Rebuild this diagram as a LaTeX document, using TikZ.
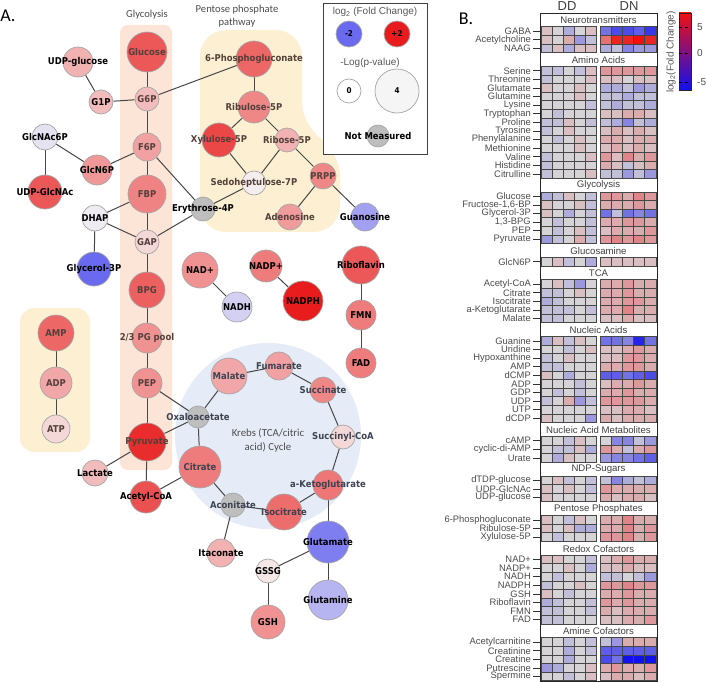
\documentclass[tikz,border=0pt]{standalone}
\usepackage{fontspec}
\setmainfont{Liberation Sans}
\newfontfamily\mfont[FakeStretch=0.9]{DejaVu Sans}
\newfontfamily\cfont{Carlito}

\definecolor{fcUp}{HTML}{E81C1C}
\definecolor{fcDn}{HTML}{6A6AF0}
\definecolor{fcZero}{HTML}{F6F2F2}
\definecolor{nmgray}{HTML}{BEBEBE}
\definecolor{hmR}{HTML}{F01010}
\definecolor{hmB}{HTML}{1010F0}
\definecolor{hmzero}{HTML}{D6D3D6}
\definecolor{glyband}{HTML}{FCE4D6}
\definecolor{pppband}{HTML}{FDF0D2}
\definecolor{tcaband}{HTML}{E6ECF7}
\definecolor{inkY}{HTML}{54403A}
\definecolor{inkB}{HTML}{3E4252}

\pgfdeclarelayer{regions}
\pgfdeclarelayer{edges}
\pgfsetlayers{regions,edges,main}

\tikzset{
  met/.style 2 args={circle, draw=black!35, line width=0.7pt, fill=#2,
    minimum size=#1pt, inner sep=0pt, text=black,
    font=\mfont\bfseries\fontsize{9.4}{10}\selectfont},
  inY/.style={text=inkY},
  inB/.style={text=inkB},
  link/.style={draw=black!72, line width=1pt},
  grp/.style={text=black!70, font=\cfont\fontsize{10.6}{13.6}\selectfont, align=center},
  lgtxt/.style={text=black!65, font=\fontsize{10}{10}\selectfont},
  lgnum/.style={font=\mfont\bfseries\fontsize{8}{8}\selectfont},
  hmlbl/.style={anchor=east, inner sep=0pt, text=black!70, font=\fontsize{9.4}{9.4}\selectfont},
  hmhd/.style={inner sep=0pt, text=black!75, font=\fontsize{9.6}{10}\selectfont},
  hmcell/.style={draw=black!72, line width=0.7pt},
  panel/.style={font=\cfont\fontsize{18}{18}\selectfont, inner sep=0pt},
}

% heatmap rows, y grows downwards
\newcount\hmk
\newcommand\hmhead[1]{%
  \global\advance\hmk by 1
  \node[hmhd] (hh\the\hmk) at (598.5,\hmy+7.2) {#1};
  \pgfmathsetmacro\hmtmp{\hmy+13.8}\xdef\hmy{\hmtmp}}
\newcommand\hmrow[2]{%
  \global\advance\hmk by 1
  \pgfmathsetmacro\ry{\hmy+4.3}
  \node[hmlbl] (hr\the\hmk) at (531,\ry) {#1};
  \draw[black!80, line width=0.7pt] (533,\ry) -- (540,\ry);
  \foreach \v [count=\c] in {#2} {
    \pgfmathsetmacro\cx{\c<6 ? 541+(\c-1)*11 : 600+(\c-6)*11.2}
    \pgfmathsetmacro\cw{\c<6 ? 11 : 11.2}
    \pgfmathtruncatemacro\pc{abs(\v)*10}
    \ifdim\v pt<0pt \def\hue{hmB}\else\def\hue{hmR}\fi
    \filldraw[hmcell, fill=\hue!\pc!hmzero] (\cx,\ry-4.3) rectangle ++(\cw,8.6);
  }
  \pgfmathsetmacro\hmtmp{\hmy+8.6}\xdef\hmy{\hmtmp}}

\begin{document}
\begin{tikzpicture}[x=1pt,y=-1pt]
\useasboundingbox (0,0) rectangle (706,682);
\begin{pgfonlayer}{regions}
\fill[white] (0,0) rectangle (706,682);
\fill[glyband, rounded corners=8pt] (120,25) rectangle (172,470);
\fill[pppband, rounded corners=26pt] (200,30) -- (302,30) -- (302,128) -- (340,150) -- (340,232) -- (200,232) -- cycle;
\fill[pppband, rounded corners=14pt] (20,308) rectangle (90,452);
\fill[tcaband] (268,436) circle (93pt);
\end{pgfonlayer}

\node[panel] (pa) at (8,16) {A.};
\node[grp] (glyt) at (147,15) {Glycolysis};
\node[grp] (pppt) at (237,16) {Pentose phosphate\\pathway};
\node[grp, font=\cfont\fontsize{10.8}{14}\selectfont] (krebs) at (268,440) {Krebs (TCA/citric\\acid) Cycle};

% glycolysis
\node[met={40}{fcUp!72!fcZero},inY] (glc) at (147,52) {\makebox[0pt]{Glucose}};
\node[met={30}{fcUp!30!fcZero}] (udpglc) at (78,62) {\makebox[0pt]{UDP-glucose}};
\node[met={24}{fcUp!25!fcZero}] (g1p) at (101,102) {\makebox[0pt]{G1P}};
\node[met={24}{fcUp!25!fcZero},inY] (g6p) at (147,99) {\makebox[0pt]{G6P}};
\node[met={28}{fcUp!38!fcZero},inY] (f6p) at (147,147) {\makebox[0pt]{F6P}};
\node[met={26}{fcDn!12!fcZero}] (glcnac6p) at (45,137) {\makebox[0pt]{GlcNAc6P}};
\node[met={30}{fcUp!42!fcZero}] (glcn6p) at (97,170) {\makebox[0pt]{GlcN6P}};
\node[met={34}{fcUp!72!fcZero}] (udpglcnac) at (45,192) {\makebox[0pt]{UDP-GlcNAc}};
\node[met={38}{fcUp!52!fcZero},inY] (fbp) at (147,194) {\makebox[0pt]{FBP}};
\node[met={26}{fcDn!5!fcZero}] (dhap) at (95,218) {\makebox[0pt]{DHAP}};
\node[met={24}{nmgray}] (e4p) at (203,209) {\makebox[0pt]{Erythrose-4P}};
\node[met={24}{fcUp!12!fcZero},inY] (gap) at (147,242) {\makebox[0pt]{GAP}};
\node[met={34}{fcDn}] (g3p) at (94,269) {\makebox[0pt]{Glycerol-3P}};
\node[met={36}{fcUp!68!fcZero},inY] (bpg) at (147,290) {\makebox[0pt]{BPG}};
\node[met={30}{fcUp!45!fcZero},inY] (pg) at (147,338) {\makebox[0pt]{2/3 PG pool}};
\node[met={30}{fcUp!45!fcZero},inY] (pep) at (147,383) {\makebox[0pt]{PEP}};
\node[met={38}{fcUp!92!fcZero},inY] (pyr) at (147,442) {\makebox[0pt]{Pyruvate}};
\node[met={26}{fcUp!25!fcZero}] (lac) at (95,473) {\makebox[0pt]{Lactate}};
\node[met={32}{fcUp!75!fcZero}] (accoa) at (146,497) {\makebox[0pt]{Acetyl-CoA}};

% pentose phosphate
\node[met={36}{fcUp!65!fcZero},inY] (pg6) at (254,59) {\makebox[0pt]{6-Phosphogluconate}};
\node[met={32}{fcUp!50!fcZero},inY] (ru5p) at (254,107) {\makebox[0pt]{Ribulose-5P}};
\node[met={34}{fcUp!80!fcZero},inY] (xu5p) at (219,140) {\makebox[0pt]{Xylulose-5P}};
\node[met={24}{fcUp!30!fcZero},inY] (r5p) at (287,140) {\makebox[0pt]{Ribose-5P}};
\node[met={24}{fcUp!2!fcZero},inY] (s7p) at (254,183) {\makebox[0pt]{Sedoheptulose-7P}};
\node[met={26}{fcUp!50!fcZero},inY] (prpp) at (323,176) {\makebox[0pt]{PRPP}};
\node[met={26}{fcUp!40!fcZero},inY] (ado) at (290,217) {\makebox[0pt]{Adenosine}};
\node[met={28}{fcDn!60!fcZero}] (guo) at (365,217) {\makebox[0pt]{Guanosine}};

% nucleotides and cofactors
\node[met={36}{fcUp!65!fcZero},inY] (amp) at (56,333) {\makebox[0pt]{AMP}};
\node[met={32}{fcUp!35!fcZero},inY] (adp) at (56,383) {\makebox[0pt]{ADP}};
\node[met={28}{fcUp!12!fcZero},inY] (atp) at (56,429) {\makebox[0pt]{ATP}};
\node[met={36}{fcUp!45!fcZero}] (nad) at (200,270) {\makebox[0pt]{NAD+}};
\node[met={30}{fcDn!25!fcZero}] (nadh) at (237,307) {\makebox[0pt]{NADH}};
\node[met={32}{fcUp!55!fcZero}] (nadp) at (266,266) {\makebox[0pt]{NADP+}};
\node[met={40}{fcUp}] (nadph) at (303,301) {\makebox[0pt]{NADPH}};
\node[met={38}{fcUp!72!fcZero}] (ribo) at (361,265) {\makebox[0pt]{Riboflavin}};
\node[met={30}{fcUp!55!fcZero}] (fmn) at (361,315) {\makebox[0pt]{FMN}};
\node[met={30}{fcUp!55!fcZero}] (fad) at (361,363) {\makebox[0pt]{FAD}};

% Krebs cycle
\node[met={22}{nmgray},inB] (oaa) at (198,417) {\makebox[0pt]{Oxaloacetate}};
\node[met={42}{fcUp!55!fcZero},inB] (cit) at (200,467) {\makebox[0pt]{Citrate}};
\node[met={36}{fcUp!35!fcZero},inB] (mal) at (229,376) {\makebox[0pt]{Malate}};
\node[met={28}{fcUp!38!fcZero},inB] (fum) at (279,366) {\makebox[0pt]{Fumarate}};
\node[met={26}{fcUp!50!fcZero},inB] (suc) at (323,390) {\makebox[0pt]{Succinate}};
\node[met={24}{fcUp!12!fcZero},inB] (succoa) at (343,437) {\makebox[0pt]{Succinyl-CoA}};
\node[met={30}{fcUp!58!fcZero},inB] (akg) at (328,485) {\makebox[0pt]{a-Ketoglutarate}};
\node[met={36}{fcUp!62!fcZero},inB] (icit) at (284,512) {\makebox[0pt]{Isocitrate}};
\node[met={24}{nmgray},inB] (acon) at (233,505) {\makebox[0pt]{Aconitate}};
\node[met={28}{fcUp!30!fcZero}] (ita) at (221,553) {\makebox[0pt]{Itaconate}};
\node[met={42}{fcDn!85!fcZero}] (glu) at (328,542) {\makebox[0pt]{Glutamate}};
\node[met={40}{fcDn!45!fcZero}] (gln) at (328,600) {\makebox[0pt]{Glutamine}};
\node[met={24}{fcUp!5!fcZero}] (gssg) at (268,571) {\makebox[0pt]{GSSG}};
\node[met={34}{fcUp!45!fcZero}] (gsh) at (268,622) {\makebox[0pt]{GSH}};

\begin{pgfonlayer}{edges}
\foreach \a/\b in {glc/g6p, udpglc/g1p, g1p/g6p, g6p/pg6, g6p/f6p, glcnac6p/glcn6p,
    glcnac6p/udpglcnac, glcn6p/f6p, f6p/fbp, f6p/e4p, fbp/dhap, fbp/gap, dhap/gap,
    dhap/g3p, gap/e4p, e4p/s7p, pg6/ru5p, ru5p/xu5p, ru5p/r5p, xu5p/s7p, r5p/s7p,
    r5p/prpp, prpp/ado, prpp/guo, gap/bpg, bpg/pg, pg/pep, pep/pyr, pep/oaa, pyr/oaa,
    pyr/lac, pyr/accoa, accoa/cit, oaa/mal, oaa/cit, mal/fum, fum/suc, suc/succoa,
    succoa/akg, akg/icit, icit/acon, acon/cit, acon/ita, akg/glu, glu/gln, glu/gssg,
    gssg/gsh, amp/adp, adp/atp, nad/nadh, nadp/nadph, ribo/fmn, fmn/fad}
  \draw[link] (\a) -- (\b);
\end{pgfonlayer}

% legend
\draw[black!75, line width=0.8pt, fill=white] (323,3) rectangle (427,154);
\node[lgtxt] (lgfc) at (375,12) {log\textsubscript{2} (Fold Change)};
\node[met={26}{fcDn},lgnum] (lgdn) at (349,34) {\makebox[0pt]{-2}};
\node[met={26}{fcUp},lgnum] (lgup) at (397,34) {\makebox[0pt]{+2}};
\node[lgtxt] (lgpv) at (370,63) {-Log(p-value)};
\node[met={24}{white},lgnum] (lgp0) at (349,91) {\makebox[0pt]{0}};
\node[met={44}{black!4},lgnum] (lgp4) at (397,91) {\makebox[0pt]{4}};
\node[met={22}{nmgray}] (lgnm) at (378,136) {\makebox[0pt]{Not Measured}};

% panel B
\node[panel] (pb) at (466,19) {B.};
\node[text=black!75, font=\fontsize{13}{13}\selectfont] (dd) at (567,6) {DD};
\node[text=black!75, font=\fontsize{13}{13}\selectfont] (dn) at (629,6) {DN};
\def\hmy{13}
\hmhead{Neurotransmitters}
\hmrow{GABA}{1,0,-2,0,1,-5,-7,-7,-6,-8}
\hmrow{Acetylcholine}{1,0,2,-3,-1,5,9,9,10,9}
\hmrow{NAAG}{-1,1,-2,1,1,-2,-1,-4,-3,-3}
\hmhead{Amino Acids}
\hmrow{Serine}{-1,-1,0,-1,1,3,3,3,3,3}
\hmrow{Threonine}{-1,0,0,0,1,1,1,0,1,1}
\hmrow{Glutamate}{1,0,0,1,0,-2,-2,-1,-3,-2}
\hmrow{Glutamine}{0,0,0,1,0,-1,-1,-2,-1,-1}
\hmrow{Lysine}{0,0,0,0,-1,-1,-2,-1,-1,-2}
\hmrow{Tryptophan}{0,-1,0,0,0,1,1,2,2,1}
\hmrow{Proline}{-1,-1,1,0,-1,-1,-2,-4,-1,-2}
\hmrow{Tyrosine}{-1,0,1,0,0,1,2,1,2,1}
\hmrow{Phenylalanine}{0,-1,0,1,0,2,2,1,2,2}
\hmrow{Methionine}{0,0,0,1,0,1,2,1,2,1}
\hmrow{Valine}{-1,0,0,0,1,3,1,4,2,3}
\hmrow{Histidine}{-1,0,0,0,0,2,1,-1,1,2}
\hmrow{Citrulline}{-1,0,0,0,1,-1,-1,-3,-1,-3}
\hmhead{Glycolysis}
\hmrow{Glucose}{-2,-1,1,0,-1,3,3,2,4,3}
\hmrow{Fructose-1,6-BP}{1,0,0,1,-1,2,2,2,3,2}
\hmrow{Glycerol-3P}{1,0,-2,0,-1,-5,-1,-5,-4,-5}
\hmrow{1,3-BPG}{0,-1,0,0,-1,2,2,3,3,2}
\hmrow{PEP}{0,-1,0,1,-1,1,2,2,2,3}
\hmrow{Pyruvate}{-3,-1,0,2,-1,3,4,3,4,3}
\hmhead{Glucosamine}
\hmrow{GlcN6P}{0,1,-1,0,-2,1,1,1,1,1}
\hmhead{TCA}
\hmrow{Acetyl-CoA}{0,1,-1,-3,0,2,2,3,2,2}
\hmrow{Citrate}{-1,-1,0,1,0,2,2,3,2,2}
\hmrow{Isocitrate}{-2,-1,0,0,0,2,2,3,3,2}
\hmrow{a-Ketoglutarate}{-1,-1,-1,0,-1,2,2,4,2,2}
\hmrow{Malate}{-1,-1,0,0,0,1,1,2,1,1}
\hmhead{Nucleic Acids}
\hmrow{Guanine}{-2,1,-1,1,0,-5,-5,-4,-9,-5}
\hmrow{Uridine}{0,0,-1,0,1,1,1,2,3,2}
\hmrow{Hypoxanthine}{-1,0,1,0,0,1,1,3,3,2}
\hmrow{AMP}{-1,-1,0,0,0,2,2,3,3,2}
\hmrow{dCMP}{1,0,-2,0,0,-6,-6,-5,-6,-7}
\hmrow{ADP}{0,0,0,-1,0,1,2,2,3,2}
\hmrow{GDP}{0,-1,0,-1,0,2,2,3,2,2}
\hmrow{UDP}{-1,0,2,-3,-1,3,3,3,3,2}
\hmrow{UTP}{0,0,0,0,0,1,1,2,2,1}
\hmrow{dCDP}{1,0,0,0,-3,2,1,2,2,2}
\hmhead{Nucleic Acid Metabolites}
\hmrow{cAMP}{0,0,-1,1,0,0,-4,-4,-1,-3}
\hmrow{cyclic-di-AMP}{0,-1,-1,1,-2,3,2,-1,2,3}
\hmrow{Urate}{0,-2,1,0,0,-3,-4,-4,-5,-6}
\hmhead{NDP-Sugars}
\hmrow{dTDP-glucose}{0,1,-1,0,-1,-1,-4,-2,-1,-2}
\hmrow{UDP-GlcNAc}{1,0,1,0,-1,3,2,2,2,2}
\hmrow{UDP-glucose}{1,0,0,0,0,2,1,2,2,1}
\hmhead{Pentose Phosphates}
\hmrow{6-Phosphogluconate}{1,0,-1,1,0,2,2,4,2,2}
\hmrow{Ribulose-5P}{1,0,1,-2,-2,2,2,4,2,3}
\hmrow{Xylulose-5P}{0,-1,0,0,0,3,3,4,2,3}
\hmhead{Redox Cofactors}
\hmrow{NAD+}{1,1,0,0,-1,1,2,3,2,2}
\hmrow{NADP+}{0,0,1,0,-2,1,1,2,1,1}
\hmrow{NADH}{0,-1,0,0,0,-1,-1,0,-1,-3}
\hmrow{NADPH}{-1,0,0,1,0,3,3,4,3,3}
\hmrow{GSH}{1,0,-1,0,0,2,2,3,2,2}
\hmrow{Riboflavin}{-2,-1,0,0,-1,3,2,3,2,2}
\hmrow{FMN}{-1,-1,0,0,-1,2,1,2,2,2}
\hmrow{FAD}{-1,-1,0,0,0,1,1,2,2,3}
\hmhead{Amine Cofactors}
\hmrow{Acetylcarnitine}{0,0,-1,0,-1,-1,-3,2,2,2}
\hmrow{Creatinine}{0,0,-2,0,-1,-6,-6,-6,-6,-6}
\hmrow{Creatine}{0,0,-2,0,0,-7,-5,-10,-10,-10}
\hmrow{Putrescine}{-3,-2,0,0,1,2,3,2,2,3}
\hmrow{Spermine}{0,0,-1,0,1,1,2,2,1,2}
\draw[black!85, line width=0.8pt] (540,13) rectangle (657,681);

% colour bar
\shade[top color=hmR, middle color=hmzero, bottom color=hmB] (679,13) rectangle (691,90);
\draw[black!85, line width=0.7pt] (679,13) rectangle (691,90);
\foreach \t/\ty in {5/27, 0/53, -5/82} {
  \draw[dashed, line width=0.7pt] (679,\ty) -- (691,\ty);
  \node[anchor=west, inner sep=0pt, text=black!70, font=\fontsize{10}{10}\selectfont] (cb\t) at (697,\ty) {\t};
}
\node[rotate=90, text=black!65, font=\fontsize{10}{10}\selectfont] (cbt) at (671,52) {log\textsubscript{2}(Fold Change)};
\end{tikzpicture}
\end{document}
